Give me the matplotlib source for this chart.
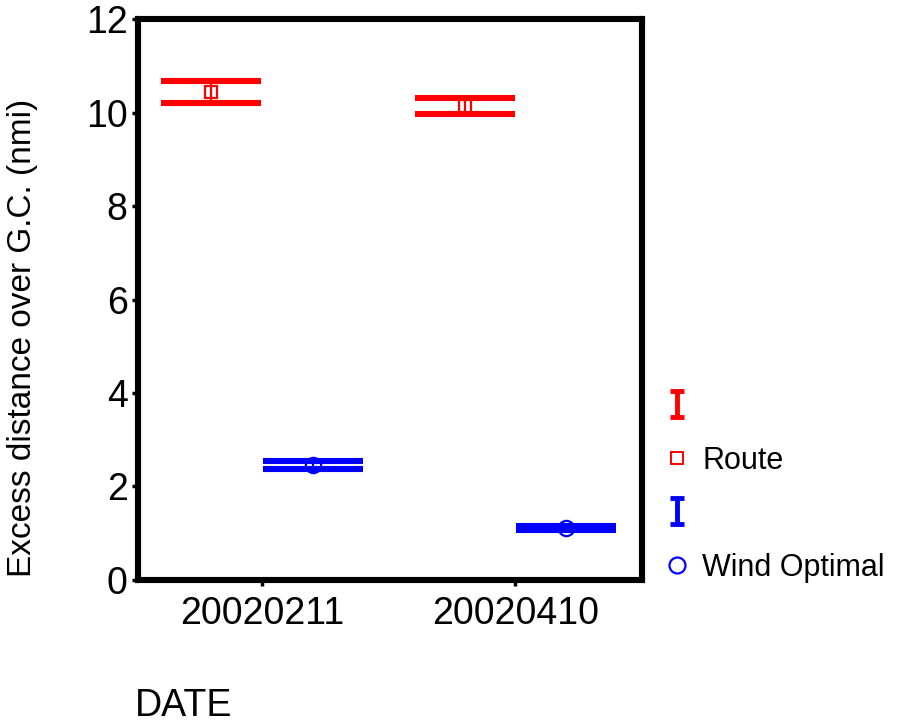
import numpy as np
import matplotlib
matplotlib.use("Agg")
import matplotlib.pyplot as plt
from matplotlib.lines import Line2D
from matplotlib.path import Path

plt.rcParams["font.family"] = ["Liberation Sans", "DejaVu Sans"]

dates = ["20020211", "20020410"]
route_mean = [10.44, 10.14]
route_low = [10.21, 9.97]
route_high = [10.68, 10.31]
wind_mean = [2.46, 1.11]
wind_low = [2.37, 1.07]
wind_high = [2.55, 1.16]

RED = "#ff0000"
BLUE = "#0000ff"

def plot_excess(ax):
    pos = np.arange(len(dates))
    off = 0.2
    rm = np.array(route_mean)
    wm = np.array(wind_mean)
    # error bars first (mew would override capthick), markers on top
    ax.errorbar(pos - off, rm, yerr=[rm - np.array(route_low), np.array(route_high) - rm],
                fmt="none", ecolor=RED, elinewidth=1.6, capsize=36, capthick=4.4, zorder=3)
    ax.errorbar(pos + off, wm, yerr=[wm - np.array(wind_low), np.array(wind_high) - wm],
                fmt="none", ecolor=BLUE, elinewidth=1.6, capsize=36, capthick=4.4, zorder=3)
    ax.plot(pos - off, rm, ls="none", marker="s", ms=9, mfc="none", mec=RED, mew=1.6, zorder=4)
    ax.plot(pos + off, wm, ls="none", marker="o", ms=11, mfc="none", mec=BLUE, mew=1.6, zorder=4)
    ax.set_xticks(pos)
    ax.set_xticklabels(dates)
    ax.set_xlim(-0.49, 1.5)
    ax.set_ylim(0, 12)
    ax.set_yticks(range(0, 13, 2))


fig = plt.figure(figsize=(9.18, 7.23), dpi=100)
ax = fig.add_axes([0.1503, 0.1978, 0.5490, 0.7759])
plot_excess(ax)

for s in ax.spines.values():
    s.set_linewidth(4.4)
ax.tick_params(direction="out", length=4.5, width=2.5, labelsize=27)
ax.tick_params(axis="x", pad=7)
ax.tick_params(axis="y", pad=3)

ax.set_ylabel("Excess distance over G.C. (nmi)", fontsize=24)
ax.yaxis.set_label_coords(-0.198, 0.431)
fig.text(135 / 918, 0.009, "DATE", fontsize=27, ha="left", va="baseline")

# "I" shaped marker for the error-bar legend rows
ibar = Path([(-0.5, 1), (0.5, 1), (0, 1), (0, -1), (-0.5, -1), (0.5, -1)],
            [Path.MOVETO, Path.LINETO, Path.MOVETO, Path.LINETO, Path.MOVETO, Path.LINETO])
handles = [
    Line2D([], [], ls="none", marker=ibar, ms=19, mew=3.5, color=RED),
    Line2D([], [], ls="none", marker="s", ms=9, mfc="none", mec=RED, mew=1.4),
    Line2D([], [], ls="none", marker=ibar, ms=19, mew=3.5, color=BLUE),
    Line2D([], [], ls="none", marker="o", ms=11.5, mfc="none", mec=BLUE, mew=1.6),
]
labels = ["", "Route", "", "Wind Optimal"]
fig.legend(handles, labels, loc="upper left", bbox_to_anchor=(662 / 918, 1 - 392 / 723),
           frameon=False, fontsize=22, handlelength=1.0, handletextpad=0.31,
           labelspacing=0.77, borderpad=0, borderaxespad=0)

fig.savefig("out.png", dpi=100)
